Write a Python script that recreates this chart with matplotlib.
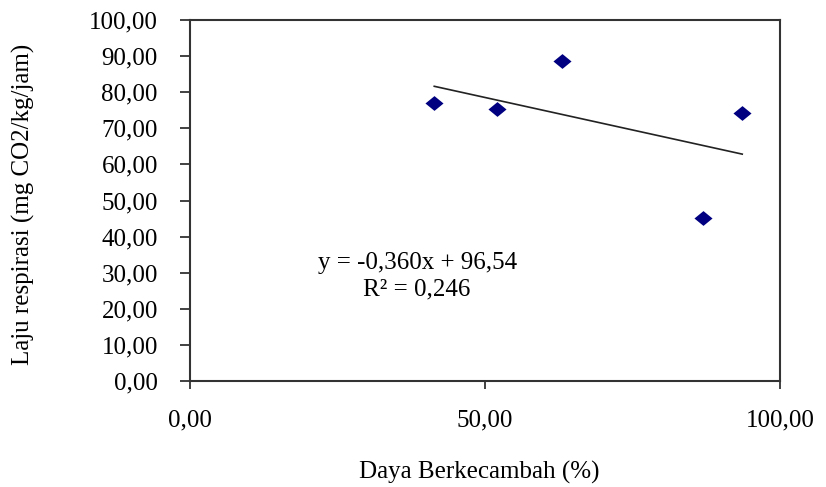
import matplotlib
matplotlib.use('Agg')
import matplotlib.pyplot as plt
import numpy as np

# data
daya = [41.4, 52.0, 63.1, 87.0, 93.6]
laju = [76.9, 75.4, 88.7, 45.1, 74.3]
slope = -0.360
intercept = 96.54
r2 = 0.246

xticks = [0, 50, 100]
yticks = list(range(0, 101, 10))


def fmt(v):
    return ('%.2f' % v).replace('.', ',')


def main():
    plt.rcParams['font.family'] = ['Liberation Serif', 'DejaVu Serif']
    fig = plt.figure(figsize=(8.26, 4.87), dpi=100)
    ax = fig.add_axes([190 / 826, 1 - 381 / 487, 590 / 826, 361 / 487])

    diamond = [(-1, 0), (0, 0.82), (1, 0), (0, -0.82), (-1, 0)]
    ax.plot(daya, laju, linestyle='none', marker=diamond, markersize=13,
            color='#000080', markeredgewidth=0, zorder=3)

    # linear trendline
    xs = np.array([min(daya), max(daya)])
    ax.plot(xs, slope * xs + intercept, color='#222222', linewidth=1.2)

    ax.set_xlim(0, 100)
    ax.set_ylim(0, 100)
    ax.set_xticks(xticks)
    ax.set_xticklabels([fmt(v) for v in xticks], fontsize=18)
    ax.set_yticks(yticks)
    ax.set_yticklabels([fmt(v) for v in yticks], fontsize=18)
    ax.tick_params(direction='out', width=1.3, color='#333333')
    ax.tick_params(axis='x', length=5.5, pad=15)
    ax.tick_params(axis='y', length=7.2, pad=16)
    for s in ax.spines.values():
        s.set_linewidth(1.5)
        s.set_color('#333333')

    ax.set_ylabel('Laju respirasi (mg CO2/kg/jam)', fontsize=18)
    ax.yaxis.set_label_coords(-0.262, 0.49)
    ax.set_xlabel('Daya Berkecambah (%)', fontsize=18)
    ax.xaxis.set_label_coords(0.49, -0.222)

    eq = 'y = ' + ('%.3f' % slope).replace('.', ',') + 'x + ' + fmt(intercept)
    ax.text(38.5, 32.6, eq, fontsize=18, ha='center', va='center')
    ax.text(38.5, 25.4, 'R² = ' + ('%.3f' % r2).replace('.', ','),
            fontsize=18, ha='center', va='center')

    fig.savefig('out.png', dpi=100)


if __name__ == '__main__':
    main()
